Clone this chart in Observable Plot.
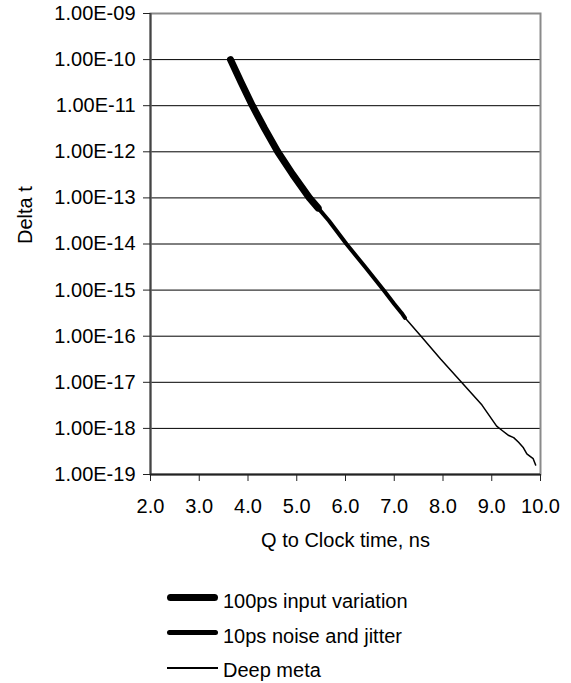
<!DOCTYPE html>
<html>
<head>
<meta charset="utf-8">
<script src="https://cdn.jsdelivr.net/npm/d3@7"></script>
<script src="https://cdn.jsdelivr.net/npm/@observablehq/plot@0.6"></script>
<style>
  html, body { margin: 0; padding: 0; background: #fff; }
  #wrap { position: relative; width: 571px; height: 683px; font-family: "Liberation Sans", Arial, sans-serif; }
  .sample { position: absolute; left: 167px; width: 51px; background: #000; }
  .lbl { position: absolute; left: 223px; font-size: 20px; line-height: 20px; color: #000; white-space: nowrap; }
</style>
</head>
<body>
<div id="wrap"></div>
<script>
// ---- data ----
const xTicks = [2, 3, 4, 5, 6, 7, 8, 9, 10];
const xTickLabels = ["2.0", "3.0", "4.0", "5.0", "6.0", "7.0", "8.0", "9.0", "10.0"];
const yTicks = [1e-9, 1e-10, 1e-11, 1e-12, 1e-13, 1e-14, 1e-15, 1e-16, 1e-17, 1e-18, 1e-19];
const yTickLabels = ["1.00E-09", "1.00E-10", "1.00E-11", "1.00E-12", "1.00E-13", "1.00E-14",
                     "1.00E-15", "1.00E-16", "1.00E-17", "1.00E-18", "1.00E-19"];

const seriesNames = ["100ps input variation", "10ps noise and jitter", "Deep meta"];

// 100ps input variation
const inputX = [3.64, 3.86, 4.09, 4.34, 4.61, 4.92, 5.26, 5.44];
const inputY = [1.0e-10, 3.2e-11, 1.0e-11, 3.2e-12, 1.0e-12, 3.2e-13, 1.0e-13, 6.0e-14];

// 10ps noise and jitter
const noiseX = [3.64, 3.86, 4.09, 4.34, 4.61, 4.92, 5.26, 5.44, 5.66, 6.02, 6.40, 6.78, 7.00, 7.15, 7.22];
const noiseY = [1.0e-10, 3.2e-11, 1.0e-11, 3.2e-12, 1.0e-12, 3.2e-13, 1.0e-13, 6.0e-14, 3.2e-14,
                1.0e-14, 3.2e-15, 1.0e-15, 5.0e-16, 3.2e-16, 2.5e-16];

// Deep meta
const deepX = [3.64, 3.86, 4.09, 4.34, 4.61, 4.92, 5.26, 5.44, 5.66, 6.02, 6.40, 6.78, 7.00, 7.22,
               7.55, 7.95, 8.38, 8.80, 9.10, 9.22, 9.35, 9.45, 9.55, 9.65, 9.72, 9.78, 9.85, 9.90];
const deepY = [1.0e-10, 3.2e-11, 1.0e-11, 3.2e-12, 1.0e-12, 3.2e-13, 1.0e-13, 6.0e-14, 3.2e-14,
               1.0e-14, 3.2e-15, 1.0e-15, 5.0e-16, 2.5e-16, 1.0e-16, 3.2e-17, 1.0e-17, 3.2e-18,
               1.12e-18, 8.9e-19, 7.0e-19, 6.3e-19, 5.0e-19, 3.8e-19, 2.8e-19, 2.5e-19, 2.2e-19, 1.6e-19];

// ---- build ----
const toRows = (xs, ys) => xs.map((x, i) => ({x, y: ys[i]}));
const inputData = toRows(inputX, inputY);
const noiseData = toRows(noiseX, noiseY);
const deepData = toRows(deepX, deepY);
const yLabelOf = new Map(yTicks.map((t, i) => [t, yTickLabels[i]]));
const xLabelOf = new Map(xTicks.map((t, i) => [t, xTickLabels[i]]));

const chart = Plot.plot({
  width: 571,
  height: 560,
  marginLeft: 150,
  marginRight: 31,
  marginTop: 13,
  marginBottom: 86,
  style: { fontFamily: "'Liberation Sans', Arial, sans-serif", fontSize: "20px", background: "#fff", color: "#000" },
  x: { domain: [2, 10] },
  y: { type: "log", domain: [1e-19, 1e-9] },
  marks: [
    Plot.gridY(yTicks, { stroke: "#000", strokeOpacity: 1, strokeWidth: 1 }),
    Plot.frame({ stroke: "#8a8a8a", strokeWidth: 2 }),
    Plot.ruleX([2], { stroke: "#444", strokeWidth: 2 }),
    Plot.ruleY([1e-19], { stroke: "#222", strokeWidth: 2 }),
    Plot.axisY(yTicks, { tickFormat: d => yLabelOf.get(d), tickSize: 7, tickPadding: 8, label: null, stroke: "#222" }),
    Plot.axisX(xTicks, { tickFormat: d => xLabelOf.get(d), tickSize: 7, tickPadding: 17, label: null, stroke: "#222" }),
    Plot.text(["Delta t"], { frameAnchor: "left", dx: -125, rotate: -90, fontSize: 20, fill: "#000" }),
    Plot.text(["Q to Clock time, ns"], { frameAnchor: "bottom", lineAnchor: "middle", dy: 66, fontSize: 20, fill: "#000" }),
    Plot.line(deepData, { x: "x", y: "y", stroke: "#000", strokeWidth: 1.5, strokeLinejoin: "round" }),
    Plot.line(noiseData, { x: "x", y: "y", stroke: "#000", strokeWidth: 4, strokeLinecap: "round", strokeLinejoin: "round" }),
    Plot.line(inputData, { x: "x", y: "y", stroke: "#000", strokeWidth: 7, strokeLinecap: "round", strokeLinejoin: "round" })
  ]
});

const wrap = document.getElementById("wrap");
chart.style.position = "absolute";
chart.style.left = "0px";
chart.style.top = "0px";
wrap.appendChild(chart);

// ---- legend (below the SVG) ----
const legendRows = [
  { name: seriesNames[0], thick: 7, lineY: 597, textY: 600.5, round: true },
  { name: seriesNames[1], thick: 5, lineY: 632, textY: 635.5, round: true },
  { name: seriesNames[2], thick: 1.5, lineY: 668, textY: 670, round: false }
];
for (const r of legendRows) {
  const s = document.createElement("div");
  s.className = "sample";
  s.style.top = (r.lineY - r.thick / 2) + "px";
  s.style.height = r.thick + "px";
  if (r.round) s.style.borderRadius = (r.thick / 2) + "px";
  wrap.appendChild(s);
  const t = document.createElement("div");
  t.className = "lbl";
  t.style.top = (r.textY - 10) + "px";
  t.textContent = r.name;
  wrap.appendChild(t);
}
</script>
</body>
</html>
